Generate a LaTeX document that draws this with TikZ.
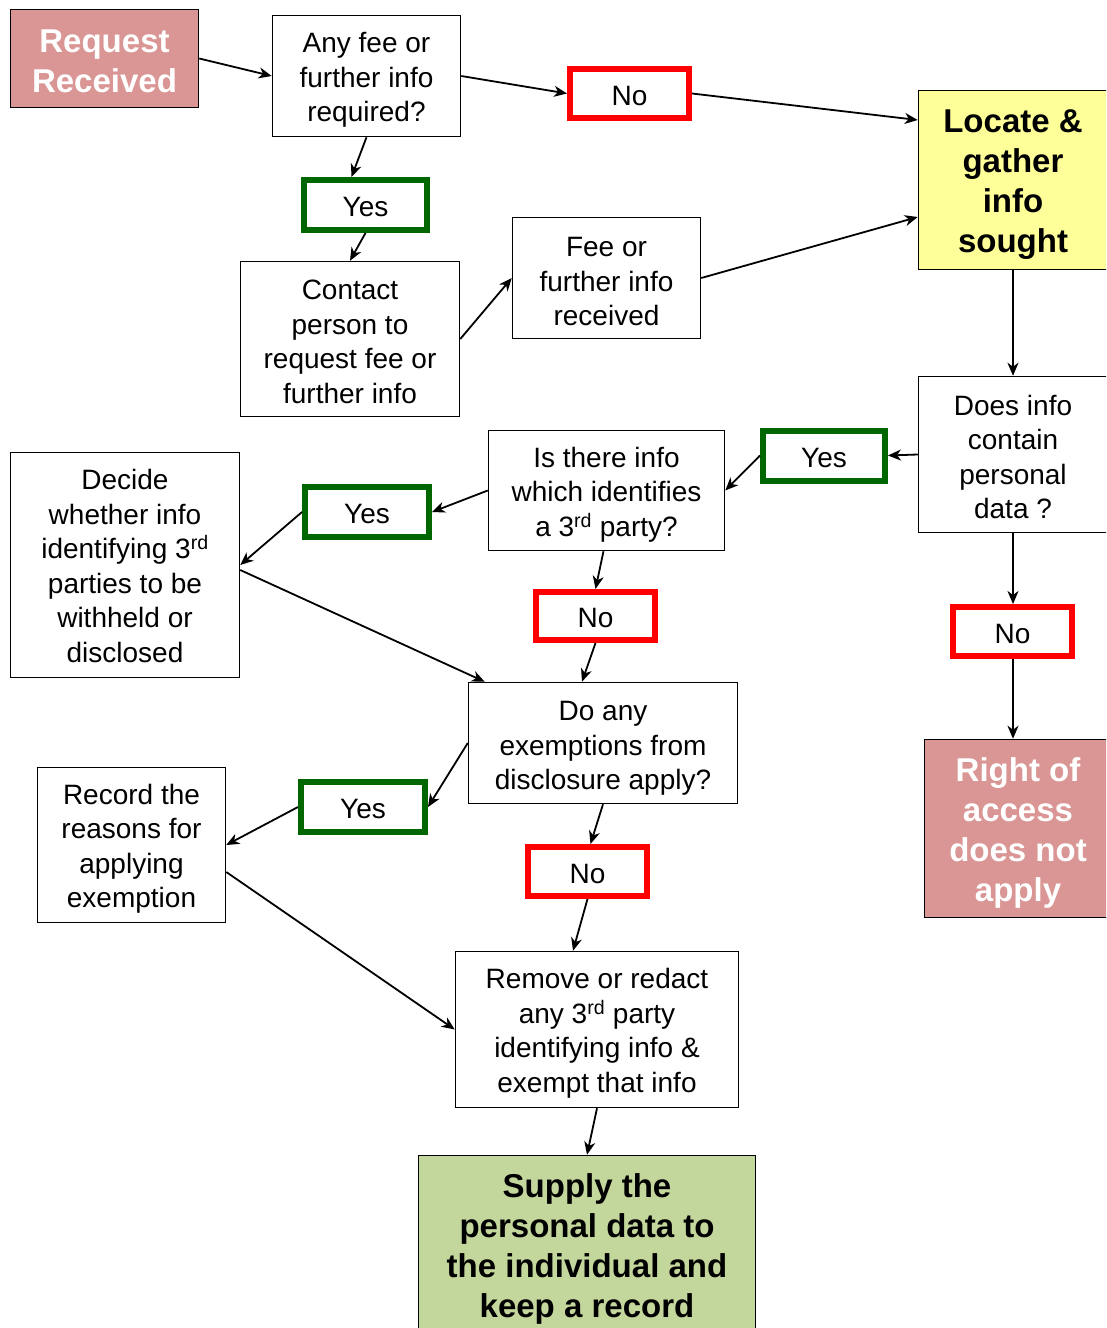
\documentclass[tikz,border=0pt]{standalone}
\usepackage{fontspec}
\setmainfont{Liberation Sans}
\usetikzlibrary{arrows.meta,calc}
\definecolor{pinkfill}{HTML}{D99694}
\definecolor{yellowfill}{HTML}{FFFF99}
\definecolor{greenfill}{HTML}{C3D69B}
\definecolor{yesgreen}{HTML}{006600}
\definecolor{nored}{HTML}{FF0000}
\newcommand\toppad[1]{\rule{0pt}{#1}}
\begin{document}
\begin{tikzpicture}[x=1pt,y=-1pt,
 box/.style={draw=black,line width=1.5pt,align=center,inner sep=0pt,font=\fontsize{28}{34.5}\selectfont},
 yesbox/.style={box,draw=yesgreen,line width=6pt,minimum width=123,minimum height=50,text height=23pt,text depth=0pt},
 nobox/.style={box,draw=nored,line width=6pt,minimum width=119,minimum height=49,text height=23pt,text depth=0pt},
 bold/.style={font=\fontsize{33}{40}\selectfont\bfseries},
 arr/.style={-{Stealth[length=13pt,width=11pt,inset=4pt]},line width=1.8pt}]
\useasboundingbox (0,0) rectangle (1106,1328);
\clip (0,0) rectangle (1106,1328);
% nodes
\node[box,bold,fill=pinkfill,text=white,minimum width=188,minimum height=98] (req) at (104.5,58.5) {\toppad{28pt}Request\\Received};
\node[box,minimum width=188,minimum height=121] (anyfee) at (366.5,76) {\toppad{28pt}Any fee or\\further info\\required?};
\node[nobox] (no1) at (629.5,93.5) {No};
\node[yesbox] (yes1) at (365.5,205) {Yes};
\node[box,minimum width=219,minimum height=155] (contact) at (350,339) {\toppad{25pt}Contact\\person to\\request fee or\\further info};
\node[box,minimum width=188,minimum height=121] (fee) at (606.5,278) {\toppad{27pt}Fee or\\further info\\received};
\node[box,bold,fill=yellowfill,minimum width=189,minimum height=179] (locate) at (1013,180) {\toppad{31.5pt}Locate \&\\gather\\info\\sought};
\node[box,minimum width=189,minimum height=156] (does) at (1013,454.5) {\toppad{25pt}Does info\\contain\\personal\\data ?};
\node[yesbox,minimum width=122] (yes2) at (824,455.5) {Yes};
\node[box,minimum width=236,minimum height=120] (isthere) at (606.5,490.5) {\toppad{28pt}Is there info\\which identifies\\a 3\textsuperscript{rd} party?};
\node[yesbox,minimum width=124] (yes3) at (367,512) {Yes};
\node[box,minimum width=229,minimum height=225] (decide) at (125,565) {\toppad{22.5pt}Decide\\whether info\\identifying 3\textsuperscript{rd}\\parties to be\\withheld or\\disclosed};
\node[nobox,minimum height=48] (no2) at (595.5,616) {No};
\node[nobox] (no3) at (1012.5,631.5) {No};
\node[box,bold,fill=pinkfill,text=white,minimum width=187,minimum height=178] (right) at (1018,828.5) {\toppad{32pt}Right of\\access\\does not\\apply};
\node[box,minimum width=269,minimum height=121] (doany) at (603,743) {\toppad{30pt}Do any\\exemptions from\\disclosure apply?};
\node[yesbox,minimum width=124] (yes4) at (363,807) {Yes};
\node[box,minimum width=188,minimum height=155] (record) at (131.5,845) {\toppad{28pt}Record the\\reasons for\\applying\\exemption};
\node[nobox] (no4) at (587.5,871.5) {No};
\node[box,minimum width=283,minimum height=156] (remove) at (597,1029.5) {\toppad{28pt}Remove or redact\\any 3\textsuperscript{rd} party\\identifying info \&\\exempt that info};
\node[box,bold,fill=greenfill,minimum width=337,minimum height=181] (supply) at (587,1246) {\toppad{30.5pt}Supply the\\personal data to\\the individual and\\keep a record};
% connectors
\draw[arr] (req.east) -- (anyfee.west);
\draw[arr] (anyfee.east) -- (no1.west);
\draw[arr] (no1.east) -- ([yshift=60pt]locate.west);
\draw[arr] (anyfee.south) -- ([xshift=-14pt]yes1.north);
\draw[arr] (yes1.south) -- (contact.north);
\draw[arr] (contact.east) -- (fee.west);
\draw[arr] (fee.east) -- ([yshift=-37pt]locate.west);
\draw[arr] (locate.south) -- (does.north);
\draw[arr] (does.west) -- (yes2.east);
\draw[arr] (yes2.west) -- (isthere.east);
\draw[arr] (isthere.west) -- (yes3.east);
\draw[arr] (yes3.west) -- (decide.east);
\draw[arr] ([yshift=-5pt]decide.east) -- ([xshift=17pt]doany.north west);
\draw[arr] ([xshift=-3pt]isthere.south) -- (no2.north);
\draw[arr] (no2.south) -- ([xshift=-21pt]doany.north);
\draw[arr] (does.south) -- (does.south |- no3.north);
\draw[arr] (does.south |- no3.south) -- (does.south |- right.north);
\draw[arr] (doany.west) -- (yes4.east);
\draw[arr] (yes4.west) -- (record.east);
\draw[arr] ([yshift=-27pt]record.east) -- (remove.west);
\draw[arr] (doany.south) -- ([xshift=3pt]no4.north);
\draw[arr] (no4.south) -- ([xshift=-24pt]remove.north);
\draw[arr] (remove.south) -- (supply.north);
\end{tikzpicture}
\end{document}
